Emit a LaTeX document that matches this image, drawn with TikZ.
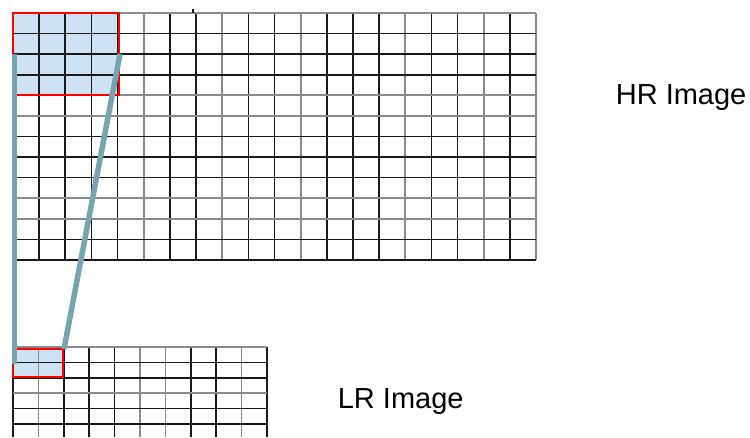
\documentclass[tikz,border=0pt]{standalone}
\usepackage{fontspec}
\setmainfont{Liberation Sans}
\usetikzlibrary{positioning}
\definecolor{patchblue}{HTML}{CFE2F3}
\definecolor{linkteal}{HTML}{76A5AF}
\definecolor{gridgray}{HTML}{8A8A8A}

\begin{document}
\begin{tikzpicture}[x=1pt, y=-1pt, line width=1.7pt,
    gridline/.style={black!90},
    softline/.style={gridgray},
    patch/.style={draw=red, line width=2.6pt, fill=patchblue},
    link/.style={linkteal, line width=5.5pt},
    label/.style={font=\fontsize{29}{34}\selectfont, inner sep=0pt, anchor=base west}]
    \useasboundingbox (0,0) rectangle (750,437);
    % patches (fill under the grids)
    \fill[patchblue] (13,13) rectangle (119,95);
    \fill[patchblue] (13,349) rectangle (63,377);
    % HR grid: 20 x 12
    \foreach \i in {0,...,20} {
        \pgfmathsetmacro\xx{13+26.15*\i}
        \ifnum\i=5 \def\st{softline}\else\ifnum\i=8 \def\st{softline}\else
        \ifnum\i=11 \def\st{softline}\else\ifnum\i=15 \def\st{softline}\else
        \ifnum\i=18 \def\st{softline}\else\ifnum\i=20 \def\st{softline}\else
        \def\st{gridline}\fi\fi\fi\fi\fi\fi
        \draw[\st] (\xx,13) -- (\xx,260);
    }
    \foreach \j in {0,...,12} {
        \pgfmathsetmacro\yy{13+20.58*\j}
        \ifnum\j=0 \def\st{softline}\else\ifnum\j=4 \def\st{softline}\else
        \ifnum\j=5 \def\st{softline}\else\ifnum\j=9 \def\st{softline}\else
        \ifnum\j=10 \def\st{softline}\else
        \def\st{gridline}\fi\fi\fi\fi\fi
        \draw[\st] (13,\yy) -- (536,\yy);
    }
    \draw[gridline] (193.1,9) -- (193.1,13);
    \draw[gridline, line width=2.2pt] (119,53.8) -- (165,53.8);
    % LR grid: 10 columns
    \foreach \i in {0,...,10} {
        \pgfmathsetmacro\xx{13+25.4*\i}
        \ifnum\i=1 \def\st{softline}\else\ifnum\i=5 \def\st{softline}\else
        \ifnum\i=6 \def\st{softline}\else\ifnum\i=9 \def\st{softline}\else
        \def\st{gridline}\fi\fi\fi\fi
        \draw[\st] (\xx,347) -- (\xx,437);
    }
    \foreach \j in {0,...,5} {
        \pgfmathsetmacro\yy{347+15.4*\j}
        \ifnum\j=0 \def\st{softline}\else\ifnum\j=3 \def\st{softline}\else
        \def\st{gridline}\fi\fi
        \draw[\st] (13,\yy) -- (267,\yy);
    }
    % red outlines
    \draw[patch, fill=none] (13,13) rectangle (119,95);
    \draw[patch, fill=none] (13,349) rectangle (63,377);
    % links between the patches
    \coordinate (hrleft) at (14.5,54);
    \coordinate (hrright) at (120,54);
    \coordinate (lrleft) at (14.5,364);
    \coordinate (lrright) at (64,349);
    \draw[link] (hrleft) -- (lrleft);
    \draw[link] (hrright) -- (lrright);
    % labels
    \node[label] (hr) at (615,104) {HR Image};
    \node[label] (lr) at (337,408) {LR Image};
\end{tikzpicture}
\end{document}
